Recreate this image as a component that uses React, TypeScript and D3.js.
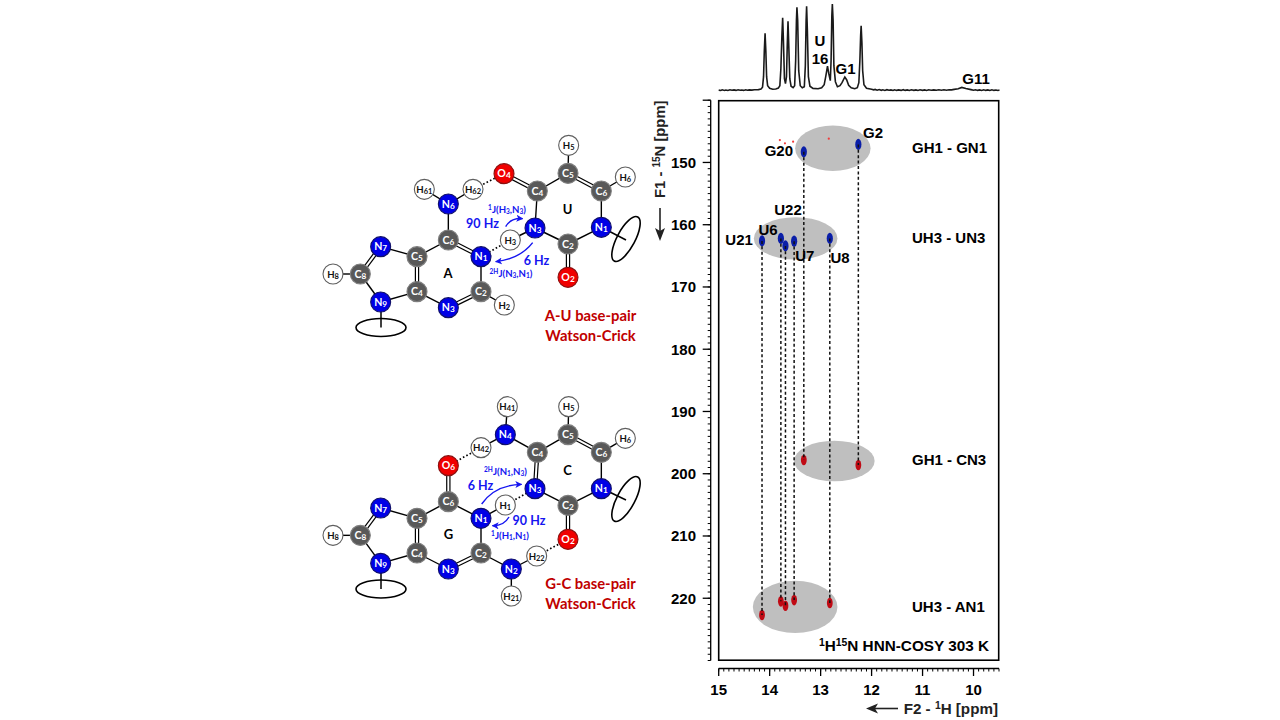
import React from "react";
import * as d3 from "d3";

// ---------- NMR data ----------
const xTickValues = [15, 14, 13, 12, 11, 10];
const yTickValues = [150, 160, 170, 180, 190, 200, 210, 220];

// 1D 1H trace: [ppm, intensity]
const trace: [number, number][] = [
  [15.0, 0.6], [14.96, 0.2], [14.93, 0.9], [14.89, 0.3], [14.86, 0.7], [14.82, 0.2], [14.78, 0.9], [14.74, 0.4], [14.7, 0.8], [14.66, 0.3], [14.62, 0.9], [14.58, 0.4], [14.55, 0.7], [14.51, 0.3], [14.47, 0.9], [14.44, 0.5], [14.4, 0.8], [14.35, 0.6], [14.3, 1.0], [14.22, 1.1], [14.17, 1.7],
  [14.14, 3.5], [14.12, 14], [14.105, 40], [14.09, 57.5], [14.075, 40], [14.06, 14], [14.04, 5], [14.0, 2.4], [13.94, 1.5], [13.88, 1.7], [13.83, 2.6], [13.8, 5],
  [13.78, 22], [13.76, 55], [13.745, 73], [13.73, 50], [13.71, 12], [13.69, 7], [13.67, 14], [13.655, 45], [13.64, 69.5], [13.625, 45], [13.605, 12], [13.58, 4.5],
  [13.54, 3], [13.51, 5], [13.49, 30], [13.475, 70], [13.465, 83.4], [13.45, 70], [13.43, 20], [13.4, 5], [13.36, 3], [13.32, 4], [13.3, 25], [13.285, 70],
  [13.275, 84.5], [13.26, 60], [13.24, 14], [13.21, 4.5], [13.15, 2.3], [13.05, 2], [12.98, 3], [12.93, 6], [12.9, 14], [12.865, 24.5], [12.84, 17], [12.81, 10],
  [12.795, 30], [12.78, 75], [12.77, 86.7], [12.755, 70], [12.74, 25], [12.71, 9], [12.67, 4], [12.62, 5], [12.58, 8], [12.525, 13.7], [12.49, 11], [12.45, 5.5],
  [12.4, 3], [12.33, 2], [12.28, 3], [12.25, 8], [12.23, 30], [12.215, 55], [12.205, 65], [12.19, 48], [12.175, 20], [12.15, 6], [12.1, 2.5], [12.0, 1.5],
  [11.96, 0.9], [11.93, 1.3], [11.89, 0.5], [11.85, 1.2], [11.81, 0.4], [11.78, 0.9], [11.74, 0.3], [11.7, 1.0], [11.66, 0.4], [11.62, 0.8], [11.58, 0.2], [11.55, 0.9], [11.51, 0.3], [11.47, 0.8], [11.42, 0.3], [11.38, 1.0], [11.34, 0.3], [11.3, 0.8], [11.26, 0.2], [11.22, 0.9], [11.17, 0.3], [11.13, 0.8], [11.09, 0.2], [11.05, 0.9],
  [11.0, 0.3], [10.96, 0.8], [10.92, 0.2], [10.88, 0.9], [10.83, 0.4], [10.78, 0.8], [10.73, 0.4], [10.68, 1.0], [10.63, 0.5], [10.58, 0.9], [10.53, 0.5], [10.48, 1.0], [10.43, 0.8], [10.38, 1.3], [10.3, 1.9], [10.23, 3.3], [10.15, 2.2], [10.05, 1.1], [10.0, 0.5], [9.96, 0.9],
  [9.92, 0.3], [9.88, 0.8], [9.84, 0.2], [9.8, 0.9], [9.76, 0.3], [9.72, 0.8], [9.68, 0.2], [9.64, 0.9], [9.6, 0.3], [9.56, 0.7], [9.52, 0.2], [9.49, 0.6],
];

const noiseDots: [number, number][] = [[13.8, 146.4], [13.7, 146.92], [13.54, 146.67], [12.84, 146.18]];

const guProton = [14.15, 13.78, 13.69, 13.52, 12.82];
const guN3 = [162.6, 162.2, 163.4, 162.65, 162.2];
const guN1 = [222.7, 220.5, 221.2, 220.3, 220.75];
const gProton = [13.33, 12.26];
const gN1 = [148.3, 147.1];
const gN3 = [197.8, 198.6];

const regionNames = ["GH1 - GN1", "UH3 - UN3", "GH1 - CN3", "UH3 - AN1"];
const regionLabelF1 = [148.55, 163.0, 198.65, 222.25];
const regionF1 = [147.73, 162.2, 197.95, 221.4];
const regionF2 = [12.76, 13.49, 12.73, 13.5];
const regionRx = [0.74, 0.82, 0.79, 0.83];
const regionRy = [3.65, 3.4, 3.25, 4.2];
const peakNames = ["G2", "G20", "U22", "U6", "U21", "U7", "U8"];
const peakNameF2 = [11.97, 13.82, 13.64, 14.03, 14.6, 13.31, 12.62];
const peakNameF1 = [146, 149, 158.4, 161.6, 163.2, 165.8, 166.1];

// ---------- Diagram data (schematic coordinates) ----------
type Atom = [string, string, string, number, number];
const atomsAU: Atom[] = [
  ["H61", "H", "H", 313, 178], ["H62", "H", "H", 459, 178], ["N6", "N", "N", 385, 222], ["O4", "O", "O", 552, 131],
  ["C4u", "C", "C", 652, 183], ["C5u", "C", "C", 744, 130], ["H5", "H", "H", 746, 46], ["C6u", "C", "C", 844, 183],
  ["H6", "H", "H", 916, 141], ["N3u", "N", "N", 645, 294], ["C2u", "C", "C", 744, 342], ["N1u", "N", "N", 844, 292],
  ["O2", "O", "O", 744, 442], ["H3", "H", "H", 571, 330], ["C6a", "C", "C", 385, 330], ["N1a", "N", "N", 483, 380],
  ["C5a", "C", "C", 291, 380], ["N7", "N", "N", 182, 350], ["C8", "C", "C", 121, 432], ["H8", "H", "H", 39, 432],
  ["N9", "N", "N", 182, 516], ["C4a", "C", "C", 291, 485], ["N3a", "N", "N", 385, 533], ["C2a", "C", "C", 483, 485],
  ["H2", "H", "H", 553, 525],
];
const bondsAU: [string, string, number][] = [
  ["N6", "H61", 1], ["N6", "H62", 1], ["N6", "C6a", 1], ["C6a", "N1a", 2], ["C6a", "C5a", 1], ["C5a", "C4a", 2], ["C5a", "N7", 1],
  ["N7", "C8", 2], ["C8", "H8", 1], ["C8", "N9", 1], ["N9", "C4a", 1], ["C4a", "N3a", 1], ["N3a", "C2a", 2], ["C2a", "N1a", 1],
  ["C2a", "H2", 1], ["O4", "C4u", 2], ["C4u", "C5u", 1], ["C5u", "C6u", 2], ["C5u", "H5", 1], ["C6u", "H6", 1], ["C6u", "N1u", 1],
  ["N1u", "C2u", 1], ["C2u", "O2", 2], ["C2u", "N3u", 1], ["N3u", "C4u", 1], ["N3u", "H3", 1],
];
const hbondsAU: [string, string][] = [["H62", "O4"], ["H3", "N1a"]];

const atomsGC: Atom[] = [
  ["H41", "H", "H", 562, 50], ["N4", "N", "N", 556, 134], ["H42", "H", "H", 483, 173], ["O6", "O", "O", 385, 227],
  ["C4c", "C", "C", 652, 187], ["C5c", "C", "C", 744, 134], ["H5", "H", "H", 746, 50], ["C6c", "C", "C", 844, 187],
  ["H6", "H", "H", 916, 145], ["N3c", "N", "N", 645, 296], ["C2c", "C", "C", 744, 346], ["N1c", "N", "N", 844, 296],
  ["O2", "O", "O", 744, 448], ["H1", "H", "H", 556, 345], ["C6g", "C", "C", 385, 335], ["N1g", "N", "N", 483, 385],
  ["C5g", "C", "C", 291, 385], ["N7", "N", "N", 182, 354], ["C8", "C", "C", 121, 436], ["H8", "H", "H", 39, 436],
  ["N9", "N", "N", 182, 520], ["C4g", "C", "C", 291, 489], ["N3g", "N", "N", 385, 537], ["C2g", "C", "C", 483, 489],
  ["N2", "N", "N", 574, 537], ["H21", "H", "H", 574, 618], ["H22", "H", "H", 650, 498],
];
const bondsGC: [string, string, number][] = [
  ["N4", "H41", 1], ["N4", "H42", 1], ["N4", "C4c", 1], ["C4c", "C5c", 1], ["C4c", "N3c", 2], ["C5c", "C6c", 2], ["C5c", "H5", 1],
  ["C6c", "H6", 1], ["C6c", "N1c", 1], ["N1c", "C2c", 1], ["C2c", "O2", 2], ["C2c", "N3c", 1], ["O6", "C6g", 2], ["C6g", "C5g", 1],
  ["C6g", "N1g", 1], ["N1g", "H1", 1], ["N1g", "C2g", 1], ["C5g", "C4g", 2], ["C5g", "N7", 1], ["N7", "C8", 2], ["C8", "H8", 1],
  ["C8", "N9", 1], ["N9", "C4g", 1], ["C4g", "N3g", 1], ["N3g", "C2g", 2], ["C2g", "N2", 1], ["N2", "H21", 1], ["N2", "H22", 1],
];
const hbondsGC: [string, string][] = [["H42", "O6"], ["H1", "N3c"], ["H22", "O2"]];

const atomStyle: Record<string, { fill: string; stroke: string; text: string }> = {
  H: { fill: "#ffffff", stroke: "#5f5f5f", text: "#111111" },
  C: { fill: "#595959", stroke: "#7f7f7f", text: "#ffffff" },
  N: { fill: "#0000e6", stroke: "#10106a", text: "#ffffff" },
  O: { fill: "#f00000", stroke: "#8a1010", text: "#ffffff" },
};

const SANS = "'Liberation Sans', Arial, sans-serif";
const DIA = "Lato, 'Open Sans', sans-serif";
const BLUE = "#1515f0";

const x = d3.scaleLinear().domain([15, 9.5]).range([718.7, 999]);
const y = d3.scaleLinear().domain([140, 230]).range([100.2, 660.5]);
const h = d3.scaleLinear().domain([0, 87]).range([90.7, 3.7]);

// Text runs: "^1" raises, "_3" lowers, anything else is on the baseline
function Rich({ runs, size, shift }: { runs: string[]; size: number; shift: number }) {
  let cur = 0;
  return (
    <>
      {runs.map((r, i) => {
        const sup = r.startsWith("^");
        const sub = r.startsWith("_");
        const off = sup ? -shift : sub ? shift * 0.4 : 0;
        const dy = off - cur;
        cur = off;
        return (
          <tspan key={i} dy={dy} fontSize={sup || sub ? size * 0.68 : size}>
            {sup || sub ? r.slice(1) : r}
          </tspan>
        );
      })}
    </>
  );
}

function AtomLabel({ id, el, size }: { id: string; el: string; size: number }) {
  const m = id.match(/^([A-Z])(\d+)/);
  const num = m ? m[2] : "";
  return (<><tspan>{el}</tspan><tspan fontSize={size * 0.78} dy={0.8}>{num}</tspan></>);
}

function Molecule({ atoms, bonds, hbonds, ox, oy }: { atoms: Atom[]; bonds: [string, string, number][]; hbonds: [string, string][]; ox: number; oy: number }) {
  const sx = d3.scaleLinear().domain([0, 3]).range([ox, ox + 1]);
  const sy = d3.scaleLinear().domain([0, 3]).range([oy, oy + 1]);
  const pos = new Map(atoms.map((a) => [a[0], [sx(a[3]), sy(a[4])] as [number, number]]));
  return (
    <g>
      {hbonds.map(([a, b], i) => {
        const p = pos.get(a)!, q = pos.get(b)!;
        return <line key={i} x1={p[0]} y1={p[1]} x2={q[0]} y2={q[1]} stroke="#000" strokeWidth={1.7} strokeDasharray="1.6 2.2" />;
      })}
      {bonds.map(([a, b, o], i) => {
        const p = pos.get(a)!, q = pos.get(b)!;
        const dx = q[0] - p[0], dy = q[1] - p[1];
        const l = Math.hypot(dx, dy);
        const nx = (-dy / l) * 1.6, ny = (dx / l) * 1.6;
        if (o === 2)
          return (
            <g key={i}>
              <line x1={p[0] + nx} y1={p[1] + ny} x2={q[0] + nx} y2={q[1] + ny} stroke="#000" strokeWidth={1.2} />
              <line x1={p[0] - nx} y1={p[1] - ny} x2={q[0] - nx} y2={q[1] - ny} stroke="#000" strokeWidth={1.2} />
            </g>
          );
        return <line key={i} x1={p[0]} y1={p[1]} x2={q[0]} y2={q[1]} stroke="#000" strokeWidth={1.4} />;
      })}
      {atoms.map((a) => {
        const st = atomStyle[a[2]];
        const [cx, cy] = pos.get(a[0])!;
        const size = a[2] === "H" ? 9.6 : 10.6;
        return (
          <g key={a[0]}>
            <circle cx={cx} cy={cy} r={10} fill={st.fill} stroke={st.stroke} strokeWidth={1.1} />
            <text x={cx} y={cy + 3.7} textAnchor="middle" fontFamily={DIA} fontWeight={700} fontSize={size} fill={st.text}>
              <AtomLabel id={a[0]} el={a[1]} size={size} />
            </text>
          </g>
        );
      })}
    </g>
  );
}

function Curve({ ox, oy, a, c, b }: { ox: number; oy: number; a: number[]; c: number[]; b: number[] }) {
  const p = d3.path();
  p.moveTo(ox + a[0] / 3, oy + a[1] / 3);
  p.quadraticCurveTo(ox + c[0] / 3, oy + c[1] / 3, ox + b[0] / 3, oy + b[1] / 3);
  return <path d={p.toString()} fill="none" stroke={BLUE} strokeWidth={1.4} markerEnd="url(#blueHead)" />;
}

function Ribose({ cx, cy, rot, ax, ay, bx, by }: { cx: number; cy: number; rot: number; ax: number; ay: number; bx: number; by: number }) {
  return (
    <g>
      <line x1={ax} y1={ay} x2={bx} y2={by} stroke="#000" strokeWidth={1.5} />
      <ellipse cx={cx} cy={cy} rx={25} ry={9} fill="none" stroke="#000" strokeWidth={1.6} transform={`rotate(${rot} ${cx} ${cy})`} />
    </g>
  );
}

export default function App() {
  const line = d3.line<[number, number]>().x((d) => x(d[0])).y((d) => h(d[1]));
  const xMinor = d3.range(0, 56).map((i) => 15 - i * 0.1);
  const yMinor = d3.range(0, 91).map((i) => 140 + i);
  const axisX = 710.7;
  const axisY = 668.5;

  const dashes = [
    ...guProton.map((p, i) => [p, guN3[i], guN1[i]]),
    ...gProton.map((p, i) => [p, gN1[i], gN3[i]]),
  ];
  const blue = [...guProton.map((p, i) => [p, guN3[i]]), ...gProton.map((p, i) => [p, gN1[i]])];
  const red = [...guProton.map((p, i) => [p, guN1[i]]), ...gProton.map((p, i) => [p, gN3[i]])];

  return (
    <svg width={1280} height={720} viewBox="0 0 1280 720" style={{ position: "absolute", left: 0, top: 0, background: "#fff" }}>
      <defs>
        <marker id="blueHead" viewBox="0 0 10 10" refX="9" refY="5" markerWidth="7" markerHeight="7" orient="auto-start-reverse" markerUnits="userSpaceOnUse">
          <path d="M0,0 L10,5 L0,10 L2.5,5 z" fill={BLUE} />
        </marker>
      </defs>

      {/* A-U */}
      <Ribose cx={381} cy={327.5} rot={0} ax={381} ay={302} bx={381} by={327.5} />
      <Ribose cx={626} cy={239} rot={-62} ax={601} ay={227} bx={626} by={240} />
      <Molecule atoms={atomsAU} bonds={bondsAU} hbonds={hbondsAU} ox={320} oy={130} />
      <Curve ox={320} oy={130} a={[557, 290]} c={[572, 263]} b={[608, 266]} />
      <Curve ox={320} oy={130} a={[638, 338]} c={[600, 387]} b={[527, 395]} />
      <g fontFamily={DIA} fontWeight={700} fill={BLUE} textAnchor="middle">
        <text x={482.5} y={228} fontSize={12.5}>90 Hz</text>
        <text x={536.5} y={264.5} fontSize={12.5}>6 Hz</text>
        <text x={507} y={213}><Rich runs={["^1", "J(H", "_3", ",N", "_3", ")"]} size={9.6} shift={3} /></text>
        <text x={511} y={277}><Rich runs={["^2H", "J(N", "_3", ",N", "_1", ")"]} size={9.6} shift={3} /></text>
      </g>
      <g fontFamily={DIA} fontWeight={700} fontSize={13} fill="#000" textAnchor="middle">
        <text x={448} y={277.5}>A</text>
        <text x={567.5} y={214}>U</text>
      </g>
      <g fontFamily={DIA} fontWeight={700} fontSize={14.8} fill="#c00000" textAnchor="middle">
        <text x={590.5} y={321}>A-U base-pair</text>
        <text x={590.5} y={341}>Watson-Crick</text>
      </g>

      {/* G-C */}
      <Ribose cx={381} cy={589} rot={0} ax={381} ay={563} bx={381} by={589} />
      <Ribose cx={626} cy={499} rot={-62} ax={601} ay={488} bx={626} by={500} />
      <Molecule atoms={atomsGC} bonds={bondsGC} hbonds={hbondsGC} ox={320} oy={390} />
      <Curve ox={320} oy={390} a={[485, 342]} c={[525, 285]} b={[605, 283]} />
      <Curve ox={320} oy={390} a={[567, 381]} c={[552, 408]} b={[517, 407]} />
      <g fontFamily={DIA} fontWeight={700} fill={BLUE} textAnchor="middle">
        <text x={480.5} y={490} fontSize={12.5}>6 Hz</text>
        <text x={529} y={525} fontSize={12.5}>90 Hz</text>
        <text x={505.5} y={475}><Rich runs={["^2H", "J(N", "_1", ",N", "_3", ")"]} size={9.6} shift={3} /></text>
        <text x={510} y={539}><Rich runs={["^1", "J(H", "_1", ",N", "_1", ")"]} size={9.6} shift={3} /></text>
      </g>
      <g fontFamily={DIA} fontWeight={700} fontSize={13} fill="#000" textAnchor="middle">
        <text x={448.5} y={539}>G</text>
        <text x={567.5} y={475}>C</text>
      </g>
      <g fontFamily={DIA} fontWeight={700} fontSize={14.8} fill="#c00000" textAnchor="middle">
        <text x={590.5} y={589}>G-C base-pair</text>
        <text x={590.5} y={609}>Watson-Crick</text>
      </g>

      {/* 1D trace */}
      <path d={line(trace) ?? ""} fill="none" stroke="#1a1a1a" strokeWidth={1.6} />
      <g fontFamily={SANS} fontWeight={700} fontSize={15} fill="#000" textAnchor="middle">
        <text x={820} y={45.5}>U</text>
        <text x={820} y={64}>16</text>
        <text x={845.5} y={74}>G1</text>
        <text x={976} y={84}>G11</text>
      </g>

      {/* 2D regions */}
      {regionNames.map((n, i) => (
        <ellipse key={n} cx={x(regionF2[i])} cy={y(regionF1[i])}
          rx={x(regionF2[i] - regionRx[i]) - x(regionF2[i])} ry={y(regionF1[i] + regionRy[i]) - y(regionF1[i])} fill="#bfbfbf" />
      ))}
      {noiseDots.map((d, i) => <circle key={i} cx={x(d[0])} cy={y(d[1])} r={1.1} fill="#f03c3c" />)}
      {blue.map((d, i) => <ellipse key={i} cx={x(d[0])} cy={y(d[1])} rx={3.1} ry={5.6} fill="#0a1ea8" />)}
      {red.map((d, i) => <ellipse key={i} cx={x(d[0])} cy={y(d[1])} rx={2.9} ry={5.3} fill="#c00a14" />)}
      {dashes.map((d, i) => (
        <line key={i} x1={x(d[0])} x2={x(d[0])} y1={y(d[1])} y2={y(d[2])} stroke="#111" strokeWidth={1.5} strokeDasharray="3 2.4" />
      ))}
      <rect x={718.7} y={100.7} width={280} height={559.5} fill="none" stroke="#000" strokeWidth={1.6} />

      {/* labels in 2D */}
      <g fontFamily={SANS} fontWeight={700} fontSize={15} fill="#000">
        {regionNames.map((n, i) => (
          <text key={n} x={912} y={y(regionLabelF1[i])}>{n}</text>
        ))}
        <g textAnchor="middle">
          {peakNames.map((n, i) => (
            <text key={n} x={x(peakNameF2[i])} y={y(peakNameF1[i])}>{n}</text>
          ))}
        </g>
        <text x={989} y={651} textAnchor="end"><Rich runs={["^1", "H", "^15", "N HNN-COSY 303 K"]} size={15.3} shift={5} /></text>
      </g>

      {/* x axis */}
      <line x1={718.7} x2={999} y1={axisY} y2={axisY} stroke="#000" strokeWidth={1.3} />
      {xMinor.map((v, i) => <line key={i} x1={x(v)} x2={x(v)} y1={axisY} y2={axisY + 3} stroke="#000" strokeWidth={1} />)}
      {xTickValues.map((v) => <line key={v} x1={x(v)} x2={x(v)} y1={axisY} y2={axisY + 7.5} stroke="#000" strokeWidth={1.3} />)}
      <g fontFamily={SANS} fontWeight={700} fontSize={15} fill="#000" textAnchor="middle">
        {xTickValues.map((v) => <text key={v} x={x(v)} y={695}>{v}</text>)}
      </g>

      {/* y axis */}
      <line x1={axisX} x2={axisX} y1={100.2} y2={660.5} stroke="#000" strokeWidth={1.3} />
      {yMinor.map((v, i) => <line key={i} x1={axisX - 3} x2={axisX} y1={y(v)} y2={y(v)} stroke="#000" strokeWidth={1} />)}
      <line x1={axisX - 8} x2={axisX} y1={y(140)} y2={y(140)} stroke="#000" strokeWidth={1.3} />
      {yTickValues.map((v) => <line key={v} x1={axisX - 8} x2={axisX} y1={y(v)} y2={y(v)} stroke="#000" strokeWidth={1.3} />)}
      <g fontFamily={SANS} fontWeight={700} fontSize={15} fill="#000" textAnchor="end">
        {yTickValues.map((v) => <text key={v} x={696} y={y(v) + 5.5}>{v}</text>)}
      </g>

      {/* axis titles */}
      <text x={998} y={714} textAnchor="end" fontFamily={SANS} fontWeight={700} fill="#222"><Rich runs={["F2 - ", "^1", "H [ppm]"]} size={15.2} shift={5} /></text>
      <line x1={898} x2={872} y1={708.5} y2={708.5} stroke="#222" strokeWidth={1.6} />
      <path d="M866,708.5 L878,703.5 L875,708.5 L878,713.5 z" fill="#222" />
      <text transform="translate(665,198) rotate(-90)" fontFamily={SANS} fontWeight={700} fill="#222"><Rich runs={["F1 - ", "^15", "N [ppm]"]} size={14.8} shift={5} /></text>
      <line x1={660} x2={660} y1={208} y2={233} stroke="#222" strokeWidth={1.6} />
      <path d="M660,241 L655,228 L660,231 L665,228 z" fill="#222" />
    </svg>
  );
}
